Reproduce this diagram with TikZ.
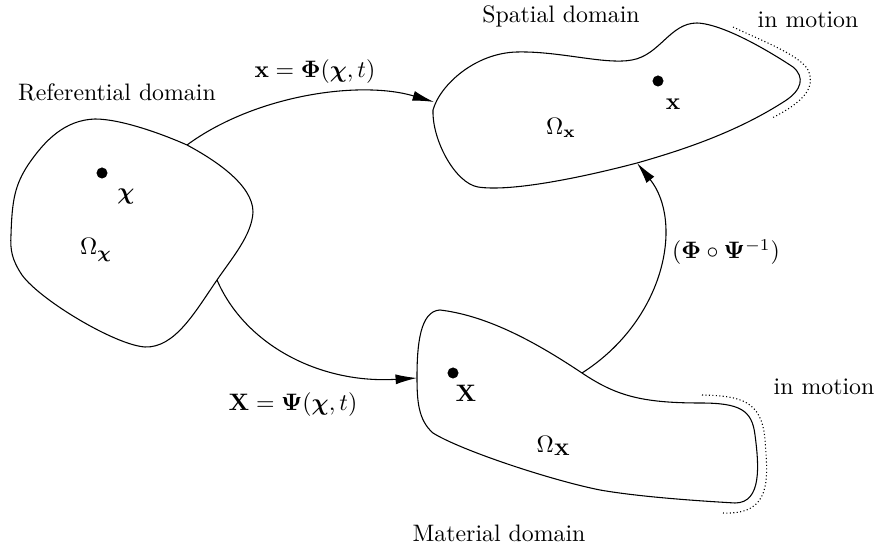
\documentclass[tikz,border=0pt]{standalone}
\usepackage{amsmath,amssymb,bm}
\usetikzlibrary{arrows.meta}
\begin{document}
\begin{tikzpicture}[
	x=0.42pt, y=-0.42pt,
	pt/.style={ circle, draw, very thin, fill, inner sep=0pt, minimum size=4.4pt },
	txt/.style={ inner sep=0pt },
	blob/.style={ line width=0.45pt },
	motion/.style={ densely dotted, line width=0.45pt },
	flow/.style={ line width=0.45pt, -{Latex[length=9pt,width=4.2pt]} }
]
\useasboundingbox (0,0) rectangle (879,551);

\draw[blob] (11,235) .. controls (12,200) and (15,185) .. (28,165)
	.. controls (45,140) and (65,120) .. (95,119)
	.. controls (120,119) and (160,133) .. (187,145)
	.. controls (215,160) and (253,185) .. (253,212)
	.. controls (252,235) and (232,258) .. (217,280)
	.. controls (195,312) and (175,348) .. (145,347)
	.. controls (115,345) and (40,300) .. (22,275)
	.. controls (12,260) and (10,250) .. (11,235) -- cycle;

\draw[blob] (433,110) .. controls (440,85) and (475,53) .. (517,52)
	.. controls (560,51) and (605,65) .. (632,60)
	.. controls (660,55) and (670,23) .. (697,23)
	.. controls (725,24) and (775,55) .. (793,67)
	.. controls (805,77) and (802,90) .. (785,101)
	.. controls (740,130) and (690,148) .. (637,163)
	.. controls (580,178) and (510,192) .. (478,187)
	.. controls (455,183) and (432,140) .. (433,110) -- cycle;

\draw[blob] (417,377) .. controls (417,345) and (420,311) .. (440,310)
	.. controls (490,316) and (540,345) .. (582,373)
	.. controls (615,395) and (640,403) .. (700,403)
	.. controls (740,403) and (752,410) .. (755,435)
	.. controls (759,465) and (762,503) .. (735,503)
	.. controls (700,501) and (640,497) .. (600,490)
	.. controls (550,480) and (460,450) .. (433,433)
	.. controls (418,420) and (417,400) .. (417,377) -- cycle;

\draw[motion] (733,27) .. controls (760,40) and (800,55) .. (808,70)
	.. controls (815,85) and (808,100) .. (772,118);
\draw[motion] (702,395) .. controls (740,396) and (762,400) .. (765,440)
	.. controls (768,480) and (772,515) .. (723,513);

\coordinate (ref1) at (187,145);
\coordinate (ref2) at (217,280);
\coordinate (spa1) at (434,102);
\coordinate (spa2) at (637,163);
\coordinate (mat1) at (417,378);
\coordinate (mat2) at (582,373);

\draw[flow] (ref1) .. controls (255,95) and (360,80) .. (spa1);
\draw[flow] (ref2) .. controls (245,345) and (320,384) .. (mat1);
\draw[flow] (mat2) .. controls (665,320) and (684,222) .. (spa2);

\node at (102,173) (pchi) [pt] {};
\node at (126,197) (lchi) [txt] {$\boldsymbol{\chi}$};
\node at (96,250) (ochi) [txt] {$\Omega_{\boldsymbol{\chi}}$};
\node at (117,92) (tref) [txt] {Referential domain};

\node at (658,81) (px) [pt] {};
\node at (673,104) (lx) [txt] {$\mathbf{x}$};
\node at (561,128) (ox) [txt] {$\Omega_{\mathbf{x}}$};
\node at (561,16) (tspa) [txt] {Spatial domain};
\node at (808,20) (mot1) [txt] {in motion};

\node at (453,373) (pX) [pt] {};
\node at (466,393) (lX) [txt] {$\mathbf{X}$};
\node at (554,446) (oX) [txt] {$\Omega_{\mathbf{X}}$};
\node at (499,533) (tmat) [txt] {Material domain};
\node at (824,387) (mot2) [txt] {in motion};

\node at (315,72) (phi) [txt] {$\mathbf{x} = \mathbf{\Phi}(\boldsymbol{\chi},t)$};
\node at (293,405) (psi) [txt] {$\mathbf{X} = \mathbf{\Psi}(\boldsymbol{\chi},t)$};
\node at (726,252) (comp) [txt] {$(\mathbf{\Phi}\circ\mathbf{\Psi}^{-1})$};

\end{tikzpicture}
\end{document}
